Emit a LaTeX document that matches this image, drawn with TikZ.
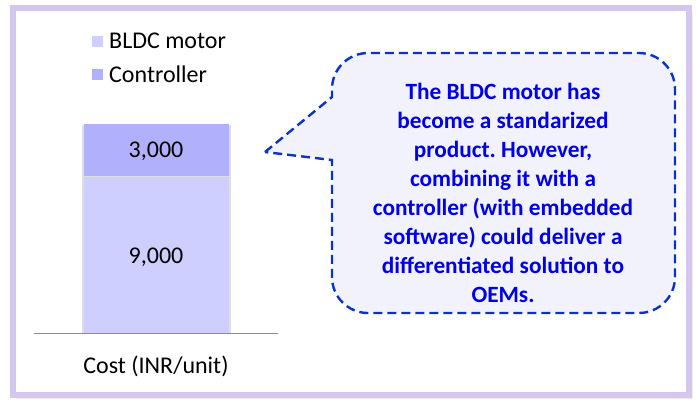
\documentclass[tikz,border=0pt]{standalone}
\usepackage{fontspec}
\setmainfont{Carlito}
\frenchspacing
\definecolor{framepurple}{RGB}{212,198,236}
\definecolor{motorfill}{RGB}{206,206,255}
\definecolor{ctrlfill}{RGB}{176,176,252}
\definecolor{calloutfill}{RGB}{242,242,252}
\definecolor{calloutline}{RGB}{10,50,200}
\definecolor{callouttext}{RGB}{0,0,230}
\definecolor{axisgray}{RGB}{140,140,140}

\tikzset{
 lbl/.style={font=\fontsize{24}{28}\selectfont,inner sep=0pt},
 keybox/.style={minimum size=11pt,inner sep=0pt},
}

\begin{document}
\begin{tikzpicture}[x=1pt,y=-1pt]
 \useasboundingbox (0,0) rectangle (696,408);
 % frame
 \fill[black!7] (16,12) rectangle (693,399);
 \draw[framepurple,line width=5.5pt,fill=white] (13,8) rectangle (689,395);
 % legend
 \node[keybox,fill=motorfill] (keymotor) at (97.5,41) {};
 \node[keybox,fill=ctrlfill] (keyctrl) at (97.5,74) {};
 \node[lbl,anchor=west] (txtmotor) at (109,41) {BLDC motor};
 \node[lbl,anchor=west] (txtctrl) at (109,74) {Controller};
 % stacked bar
 \fill[black!13] (82,125) rectangle (231,334);
 \fill[motorfill] (84,177) rectangle (229,333);
 \fill[ctrlfill] (84,124) rectangle (229,175.5);
 \draw[axisgray,line width=1pt] (34,333.5)--(278,333.5);
 \node[lbl] (valctrl) at (156,151) {3,000};
 \node[lbl] (valmotor) at (156,257) {9,000};
 \node[lbl] (axlabel) at (156,366) {Cost (INR/unit)};
 % callout
 \draw[calloutline,fill=calloutfill,line width=2.4pt,dash pattern=on 9pt off 5pt]
   (265,152) -- (332,97) [rounded corners=36pt] -- (332,53) -- (675,53)
   -- (675,313) -- (332,313) [sharp corners] -- (332,160) -- cycle;
 \node[font=\fontsize{23.3}{29}\selectfont\bfseries,text=callouttext,align=center,inner sep=0pt]
   (note) at (503,193) {The BLDC motor has\\become a standarized\\product. However,\\combining it with a\\controller (with embedded\\software) could deliver a\\differentiated solution to\\OEMs.};
\end{tikzpicture}
\end{document}
